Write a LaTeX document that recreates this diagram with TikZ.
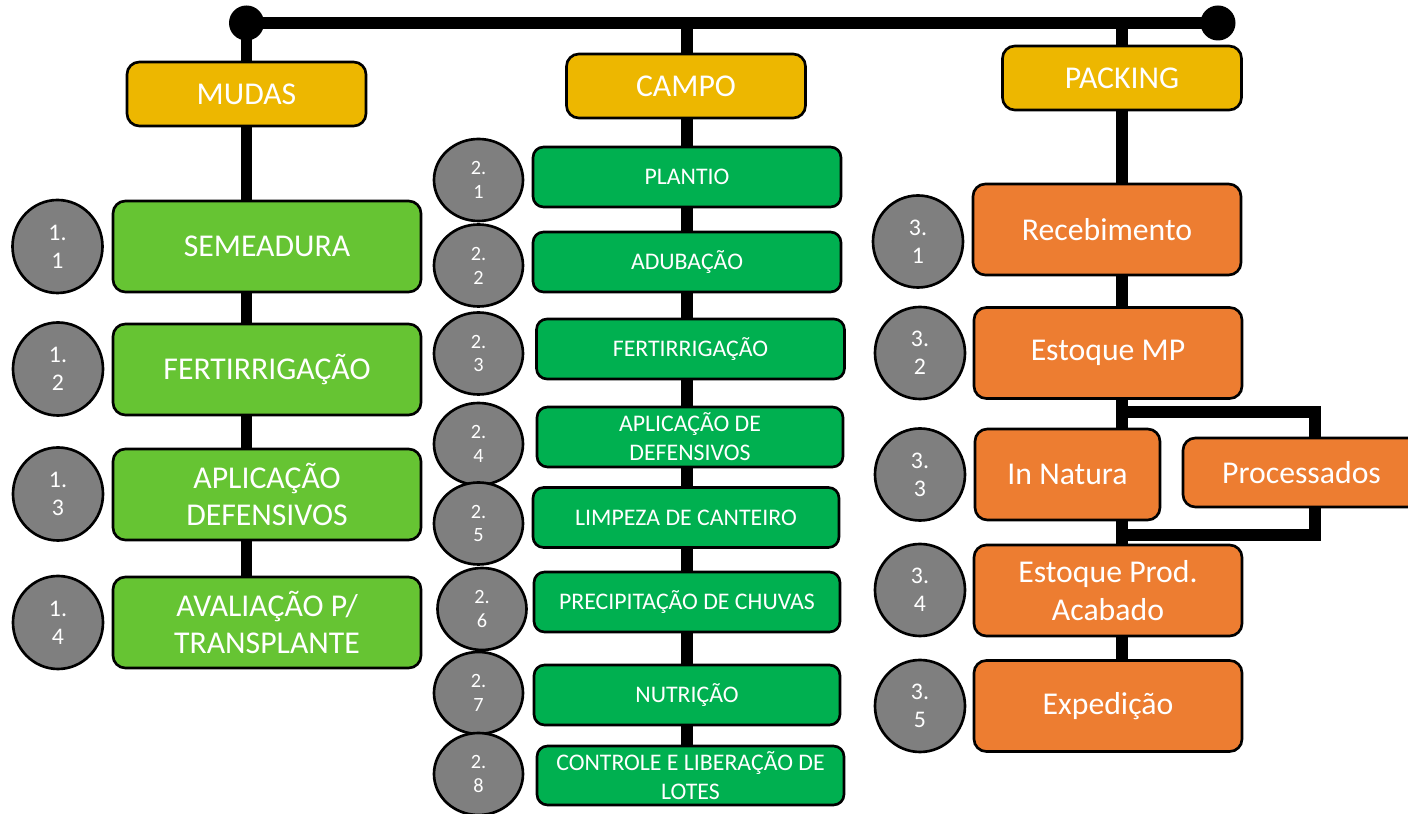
\documentclass[tikz,border=0pt]{standalone}
\usepackage{fontspec}
\setmainfont{Carlito}
\usetikzlibrary{shapes.geometric}
\definecolor{gold}{RGB}{237,183,0}
\definecolor{lgreen}{RGB}{102,196,51}
\definecolor{dgreen}{RGB}{0,176,80}
\definecolor{orng}{RGB}{237,125,49}
\definecolor{cgrey}{RGB}{127,127,127}
\pgfdeclarelayer{bg}
\pgfdeclarelayer{lines}
\pgfsetlayers{bg,lines,main}
\tikzset{
 sz/.style 2 args={minimum width=#1*0.567pt, minimum height=#2*0.567pt},
 base/.style={draw=black, line width=1.5pt, rounded corners=7pt, text=white, align=center, inner sep=0pt},
 headbox/.style={base, fill=gold, sz={239}{64}, font=\fontsize{18}{22}\selectfont},
 mbox/.style={base, fill=lgreen, sz={308}{91}, font=\fontsize{18}{21}\selectfont},
 cbox/.style={base, fill=dgreen, sz={308}{60}, rounded corners=6pt, font=\fontsize{13.5}{16.5}\selectfont},
 pbox/.style={base, fill=orng, sz={268}{91}, font=\fontsize{18}{21.5}\selectfont},
 num/.style={ellipse, draw=black, line width=1.5pt, fill=cgrey, text=white, align=center, inner sep=0pt, font=\fontsize{13.5}{16}\selectfont},
 numc/.style={num, sz={89}{82}, font=\fontsize{11.5}{13.6}\selectfont},
 numm/.style={num, sz={90}{93}},
 nump/.style={num, sz={90}{92}},
 conn/.style={line width=6.5pt, draw=black, line join=miter},
 dot/.style={circle, fill=black, minimum size=35*0.567pt, inner sep=0pt},
}
\begin{document}
\begin{tikzpicture}[x=0.567pt, y=-0.567pt]
\useasboundingbox (0,0) rectangle (1408,814);
\begin{pgfonlayer}{bg}
\fill[white] (0,0) rectangle (1408,814);
\end{pgfonlayer}

% heads
\node[headbox] (mudas) at (246.5,94) {MUDAS};
\node[headbox] (campo) at (686,86) {CAMPO};
\node[headbox] (packing) at (1122,78) {PACKING};

\node[dot] (dl) at (246.5,23) {};
\node[dot] (dr) at (1218,23) {};

% MUDAS column
\node[mbox] (m1) at (267,246.5) {SEMEADURA};
\node[mbox] (m2) at (267,369.5) {FERTIRRIGAÇÃO};
\node[mbox] (m3) at (267,494.5) {APLICAÇÃO\\DEFENSIVOS};
\node[mbox] (m4) at (267,622.5) {AVALIAÇÃO P/\\TRANSPLANTE};
\node[numm] (n11) at (57.5,246.5) {1.\\1};
\node[numm] (n12) at (58,369) {1.\\2};
\node[numm] (n13) at (58,494) {1.\\3};
\node[numm] (n14) at (58,622.5) {1.\\4};

% CAMPO column
\node[cbox] (c1) at (687,177) {PLANTIO};
\node[cbox] (c2) at (687,262) {ADUBAÇÃO};
\node[cbox] (c3) at (690.5,349) {FERTIRRIGAÇÃO};
\node[cbox, sz={306}{60}] (c4) at (690,437) {APLICAÇÃO DE\\DEFENSIVOS};
\node[cbox, sz={306}{60}] (c5) at (686,517.5) {LIMPEZA DE CANTEIRO};
\node[cbox, sz={306}{60}] (c6) at (687,602) {PRECIPITAÇÃO DE CHUVAS};
\node[cbox, sz={306}{60}] (c7) at (687,695) {NUTRIÇÃO};
\node[cbox, sz={307}{59}] (c8) at (690.5,775.5) {CONTROLE E LIBERAÇÃO DE\\LOTES};
\node[numc] (n21) at (478.5,180) {2.\\1};
\node[numc] (n22) at (478.5,265.5) {2.\\2};
\node[numc] (n23) at (478.5,353.5) {2.\\3};
\node[numc] (n24) at (478.5,444) {2.\\4};
\node[numc] (n25) at (478.5,523.5) {2.\\5};
\node[numc] (n26) at (482,609) {2.\\6};
\node[numc] (n27) at (478.5,693) {2.\\7};
\node[numc] (n28) at (478.5,774) {2.\\8};

% PACKING column
\node[pbox] (p1) at (1107,229.5) {Recebimento};
\node[pbox] (p2) at (1108,353) {Estoque MP};
\node[pbox, sz={185}{91}] (p3) at (1067.5,474.5) {In Natura};
\node[pbox, sz={237}{69}] (proc) at (1301.5,472.5) {Processados};
\node[pbox] (p4) at (1108,590.5) {Estoque Prod.\\Acabado};
\node[pbox] (p5) at (1108,706) {Expedição};
\node[nump] (n31) at (918,241.5) {3.\\1};
\node[nump] (n32) at (920,353) {3.\\2};
\node[nump] (n33) at (920,474.5) {3.\\3};
\node[nump] (n34) at (920,590) {3.\\4};
\node[nump] (n35) at (920,706) {3.\\5};

% connectors
\coordinate (ct) at (687,23);
\coordinate (pt) at (1122,23);
\coordinate (b1) at (1122,412);
\coordinate (b2) at (1315,412);
\coordinate (b3) at (1315,535);
\coordinate (b4) at (1122,535);
\begin{pgfonlayer}{lines}
\draw[conn] (dl.center) -- (dr.center);
\draw[conn] (dl.center) -- (dl.center |- m4.north);
\draw[conn] (ct) -- (ct |- c8.north);
\draw[conn] (pt) -- (pt |- p5.north);
\draw[conn] (b1) -- (b2) -- (b2 |- proc.north);
\draw[conn] (b3 |- proc.south) -- (b3) -- (b4);
\end{pgfonlayer}
\end{tikzpicture}
\end{document}
